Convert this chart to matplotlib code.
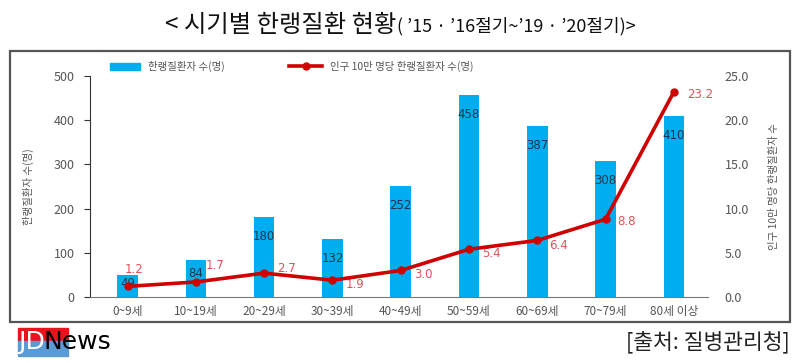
import matplotlib
matplotlib.use("Agg")
import matplotlib.pyplot as plt
from matplotlib.patches import Rectangle
from matplotlib.lines import Line2D
import numpy as np

plt.rcParams['font.family'] = ['Noto Sans CJK KR', 'DejaVu Sans']

categories = ["0~9세", "10~19세", "20~29세", "30~39세", "40~49세",
              "50~59세", "60~69세", "70~79세", "80세 이상"]
patients = [49, 84, 180, 132, 252, 458, 387, 308, 410]
rate = [1.2, 1.7, 2.7, 1.9, 3.0, 5.4, 6.4, 8.8, 23.2]
left_ticks = [0, 100, 200, 300, 400, 500]
right_ticks = [0, 5, 10, 15, 20, 25]

# label offsets (points) for rate labels
rate_offsets = [(5, 12), (14, 12), (16, 3), (16, -3), (16, -3), (16, -3), (15, -4), (15, -2), (19, -2)]

BAR = "#00AEEF"
LINE = "#D00000"
LBL_RED = "#E0505A"
GRAY = "#555555"

fig = plt.figure(figsize=(8, 3.63), dpi=100)

# outer box
fig.patches.append(Rectangle((10/800, 1-322/363), 780/800, 271/363, transform=fig.transFigure,
                             fill=False, edgecolor="#555555", linewidth=1.6))

ax = fig.add_axes([90/800, 1-297/363, 618/800, 221/363])
x = np.arange(len(categories))
ax.bar(x, patients, width=0.30, color=BAR, zorder=2)
ax.set_xlim(-0.55, 8.5)
ax.set_ylim(0, 500)
ax.set_yticks(left_ticks)
ax.set_xticks(x)
ax.set_xticklabels(categories)
ax.tick_params(axis='x', length=0, labelsize=8.5, labelcolor=GRAY, pad=6)
ax.tick_params(axis='y', length=4, labelsize=9, labelcolor=GRAY, color="#333333", pad=7)
for s in ['top', 'right']:
    ax.spines[s].set_visible(False)
ax.spines['left'].set_color("#333333")
ax.spines['bottom'].set_color("#777777")
ax.set_ylabel("한랭질환자 수(명)", fontsize=7.5, color=GRAY, labelpad=14)

for xi, v in zip(x, patients):
    yy = max(v - 44, v * 0.62)
    ax.text(xi, yy, str(v), ha='center', va='center', fontsize=8.5, color="#1b3550", zorder=4,
            family=['DejaVu Sans'])

ax2 = ax.twinx()
ax2.plot(x, rate, color=LINE, linewidth=2.6, marker='o', markersize=5, zorder=5)
ax2.set_ylim(0, 25)
ax2.set_yticks(right_ticks)
ax2.set_yticklabels([f"{t:.1f}" for t in right_ticks])
ax2.tick_params(axis='y', length=0, labelsize=9, labelcolor=GRAY, pad=12)
for s in ['top', 'right', 'left', 'bottom']:
    ax2.spines[s].set_visible(False)
ax2.set_ylabel("인구 10만 명당 한랭질환자 수", fontsize=7.5, color=GRAY, rotation=90, labelpad=14)
ax2.yaxis.set_label_position('right')
for xi, v, off in zip(x, rate, rate_offsets):
    ax2.annotate(f"{v:.1f}", (xi, v), xytext=off, textcoords='offset points',
                 ha='center', va='center', fontsize=8.5, color=LBL_RED, family=['DejaVu Sans'])

# legend
fig.patches.append(Rectangle((110/800, 1-70/363), 30/800, 7/363, transform=fig.transFigure,
                             color=BAR))
fig.text(148/800, 1-66/363, "한랭질환자 수(명)", fontsize=7.5, color=GRAY, va='center')
fig.lines.append(Line2D([289/800, 322/800], [1-66/363, 1-66/363], transform=fig.transFigure,
                        color=LINE, linewidth=2.6))
fig.lines.append(Line2D([305.5/800], [1-66/363], transform=fig.transFigure,
                        color=LINE, marker='o', markersize=5, linestyle='none'))
fig.text(330/800, 1-66/363, "인구 10만 명당 한랭질환자 수(명)", fontsize=7.5, color=GRAY, va='center')

# title
t1 = fig.text(165/800, 1-25/363, "< 시기별 한랭질환 현황", fontsize=17.5, color="#111111",
              va='center', ha='left')
fig.canvas.draw()
bb = t1.get_window_extent()
fig.text(bb.x1/800 + 1/800, 1-26/363, "( ’15 · ’16절기~’19 · ’20절기)>", fontsize=13,
         color="#111111", va='center', ha='left')

# logo
fig.patches.append(Rectangle((18/800, 1-341/363), 50/800, 13/363, transform=fig.transFigure,
                             color="#E8141B"))
fig.patches.append(Rectangle((18/800, 1-356/363), 50/800, 15/363, transform=fig.transFigure,
                             color="#5B9BD5"))
fig.text(18/800, 1-342/363, "JD", fontsize=18, color="white", va='center', ha='left',
         family=['Liberation Sans Narrow', 'DejaVu Sans'])
fig.text(44/800, 1-342/363, "News", fontsize=18, color="black", va='center', ha='left',
         family=['Liberation Sans Narrow', 'DejaVu Sans'])

fig.text(790/800, 1-343/363, "[출처: 질병관리청]", fontsize=15.5, color="#222222",
         va='center', ha='right')

fig.savefig("out.png", dpi=100)
